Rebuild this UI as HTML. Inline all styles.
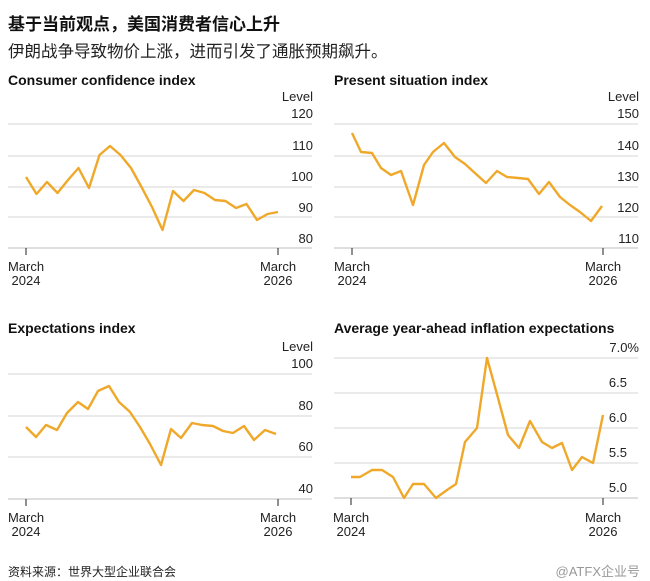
<!DOCTYPE html>
<html><head><meta charset="utf-8"><style>
html,body{margin:0;padding:0;background:#fff;}
svg{display:block;font-family:"Liberation Sans","Noto Sans CJK SC",sans-serif;}
.g{stroke:#d4d4d4;stroke-width:1}
.ax{stroke:#bdbdbd;stroke-width:1}
.tk{stroke:#222;stroke-width:1}
.l{fill:none;stroke:#f0a82a;stroke-width:2.4;stroke-linejoin:round}
.t{font-size:13px;fill:#222}
.h{font-size:14px;font-weight:bold;fill:#111}
</style></head><body>
<svg width="650" height="581" viewBox="0 0 650 581">
<rect width="650" height="581" fill="#fff"/>
<text x="8" y="30" font-size="17" font-weight="bold" fill="#111">基于当前观点，美国消费者信心上升</text>
<text x="8" y="57" font-size="16.5" fill="#222">伊朗战争导致物价上涨，进而引发了通胀预期飙升。</text>

<!-- Panel 1 -->
<text class="h" x="8" y="85">Consumer confidence index</text>
<g class="g"><line x1="8" x2="312" y1="124" y2="124"/><line x1="8" x2="312" y1="156" y2="156"/><line x1="8" x2="312" y1="187" y2="187"/><line x1="8" x2="312" y1="217" y2="217"/></g>
<line class="ax" x1="8" x2="312" y1="248" y2="248"/>
<g class="t" text-anchor="end"><text x="313" y="101">Level</text><text x="313" y="118">120</text><text x="313" y="150">110</text><text x="313" y="181">100</text><text x="313" y="212">90</text><text x="313" y="243">80</text></g>
<line class="tk" x1="26" x2="26" y1="248" y2="255"/><line class="tk" x1="278" x2="278" y1="248" y2="255"/>
<g class="t" text-anchor="middle"><text x="26" y="271">March</text><text x="26" y="285">2024</text><text x="278" y="271">March</text><text x="278" y="285">2026</text></g>
<polyline class="l" points="26,177 36.5,194 47,182 57.5,193 68,180 78.5,168 89,188 99.5,155 110,146 120.5,155 131,168 141.5,187 152,207 162.5,230 173,191 183.5,201 194,190 204.5,193 215,200 225.5,201 236,208 246.5,204 257,220 267.5,214 278,212"/>

<!-- Panel 2 -->
<text class="h" x="334" y="85">Present situation index</text>
<g class="g"><line x1="334" x2="638" y1="124" y2="124"/><line x1="334" x2="638" y1="156" y2="156"/><line x1="334" x2="638" y1="187" y2="187"/><line x1="334" x2="638" y1="217" y2="217"/></g>
<line class="ax" x1="334" x2="638" y1="248" y2="248"/>
<g class="t" text-anchor="end"><text x="639" y="101">Level</text><text x="639" y="118">150</text><text x="639" y="150">140</text><text x="639" y="181">130</text><text x="639" y="212">120</text><text x="639" y="243">110</text></g>
<line class="tk" x1="352" x2="352" y1="248" y2="255"/><line class="tk" x1="603" x2="603" y1="248" y2="255"/>
<g class="t" text-anchor="middle"><text x="352" y="271">March</text><text x="352" y="285">2024</text><text x="603" y="271">March</text><text x="603" y="285">2026</text></g>
<polyline class="l" points="352,133 361,152 372,153 381,168 391,175 401,171 413,205 424,165 433,152 444,143 455,157 465,164 476,174 486,183 497,171 507,177 518,178 528,179 539,194 549,182 560,197 570,205 580,212 591,221 602,206"/>

<!-- Panel 3 -->
<text class="h" x="8" y="333">Expectations index</text>
<g class="g"><line x1="8" x2="312" y1="374" y2="374"/><line x1="8" x2="312" y1="416" y2="416"/><line x1="8" x2="312" y1="457" y2="457"/></g>
<line class="ax" x1="8" x2="312" y1="499" y2="499"/>
<g class="t" text-anchor="end"><text x="313" y="351">Level</text><text x="313" y="368">100</text><text x="313" y="410">80</text><text x="313" y="451">60</text><text x="313" y="493">40</text></g>
<line class="tk" x1="26" x2="26" y1="499" y2="506"/><line class="tk" x1="278" x2="278" y1="499" y2="506"/>
<g class="t" text-anchor="middle"><text x="26" y="522">March</text><text x="26" y="536">2024</text><text x="278" y="522">March</text><text x="278" y="536">2026</text></g>
<polyline class="l" points="26,427 36,437 46,425 57,430 67,413 78,402 88,409 98,391 109,386 119,402 130,412 140,427 150,444 161,465 171,429 181,438 192,423 202,425 213,426 223,431 233,433 244,426 254,440 265,430 276,434"/>

<!-- Panel 4 -->
<text class="h" x="334" y="333">Average year-ahead inflation expectations</text>
<g class="g"><line x1="334" x2="638" y1="358" y2="358"/><line x1="334" x2="638" y1="393" y2="393"/><line x1="334" x2="638" y1="428" y2="428"/><line x1="334" x2="638" y1="463" y2="463"/></g>
<line class="ax" x1="334" x2="638" y1="498" y2="498"/>
<g class="t" text-anchor="end"><text x="639" y="352">7.0%</text><text x="627" y="387">6.5</text><text x="627" y="422">6.0</text><text x="627" y="457">5.5</text><text x="627" y="492">5.0</text></g>
<line class="tk" x1="351" x2="351" y1="498" y2="505"/><line class="tk" x1="603" x2="603" y1="498" y2="505"/>
<g class="t" text-anchor="middle"><text x="351" y="522">March</text><text x="351" y="536">2024</text><text x="603" y="522">March</text><text x="603" y="536">2026</text></g>
<polyline class="l" points="351,477 360,477 372,470 382,470 393,477 404,498 413,484 424,484 436,498 447,490 456,484 465,442 477,428 487,358 498,398 508,435 519,448 530,421 542,442 552,448 562,443 572,470 582,457 593,463 603,415"/>

<text x="8" y="576" font-size="12" fill="#222">资料来源：世界大型企业联合会</text>
<text x="640" y="576" font-size="13" fill="#999" text-anchor="end">@ATFX企业号</text>
</svg>
</body></html>
